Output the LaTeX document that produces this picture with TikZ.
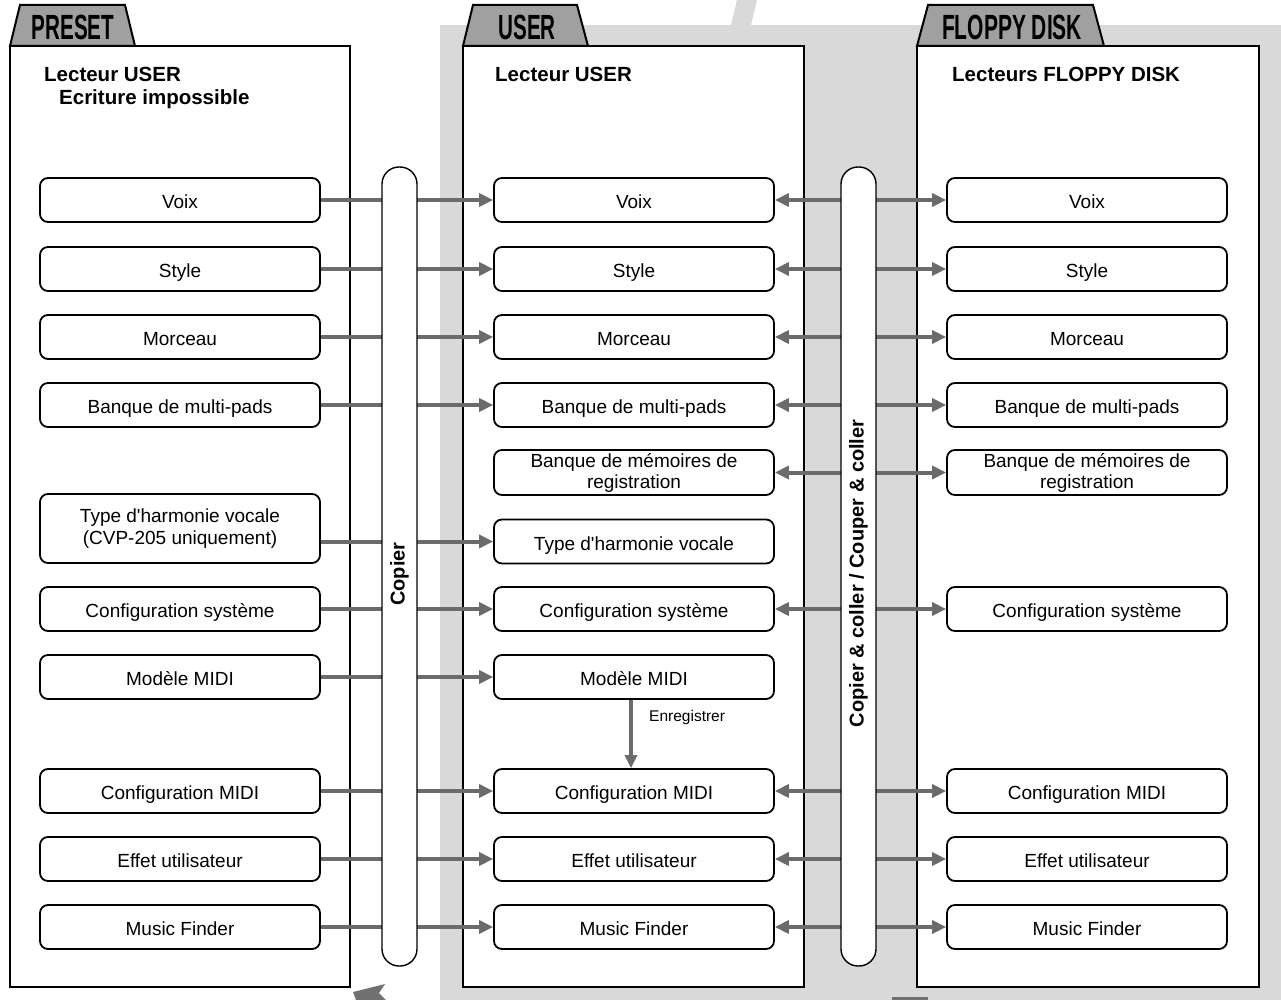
\documentclass[tikz,border=0pt]{standalone}
\usepackage{fontspec}
\setmainfont{Liberation Sans}
\usepackage{graphicx}
\usetikzlibrary{arrows.meta}
\definecolor{bggray}{HTML}{D9D9D9}
\definecolor{tabgray}{HTML}{A0A0A0}
\definecolor{arrgray}{HTML}{6B6B6B}
\definecolor{darkbit}{HTML}{707070}
\begin{document}
\begin{tikzpicture}[x=1pt,y=-1pt,
  box/.style={draw=black, line width=1.8pt, rounded corners=8pt, fill=white,
    minimum width=280pt, minimum height=44pt, align=center,
    font=\fontsize{19}{21}\selectfont, inner sep=0pt},
  one/.style={text height=17pt, text depth=0pt},
  panel/.style={draw=black, line width=2.8pt, fill=white},
  tabshape/.style={draw=black, line width=2pt, fill=tabgray, line join=miter},
  tablabel/.style={font=\bfseries\fontsize{35}{38}\selectfont, inner sep=0pt},
  title/.style={font=\bfseries\fontsize{20.5}{23}\selectfont, anchor=west, inner sep=0pt,
    text height=14.7pt, text depth=4.3pt},
  arr/.style={draw=arrgray, line width=4pt, -{Triangle[length=14pt,width=13pt]}},
  darr/.style={draw=arrgray, line width=4pt, {Triangle[length=14pt,width=13pt]}-{Triangle[length=14pt,width=13pt]}},
  pill/.style={draw=black, line width=1.4pt, fill=white, rounded corners=17pt,
    minimum width=35pt, minimum height=799pt, inner sep=0pt},
  pilltext/.style={rotate=90, font=\bfseries\fontsize{20}{22}\selectfont, inner sep=0pt},
  small/.style={font=\fontsize{15.5}{17}\selectfont, anchor=west, inner sep=0pt}
]
\useasboundingbox (0,0) rectangle (1281,1000);
% background
\fill[bggray] (440,25) rectangle (1281,1000);
\fill[bggray] (731,25) -- (751,25) -- (757,0) -- (737,0) -- cycle;
\fill[darkbit] (353,992) -- (385,984) -- (379,993) -- (386,1000) -- (356,1000) -- cycle;
\fill[darkbit] (892,997) rectangle (928,1000);

% tabs
\draw[tabshape] (10,46) -- (20,5) -- (125,5) -- (135,46) -- cycle;
\draw[tabshape] (463,46) -- (473,5) -- (577,5) -- (588,46) -- cycle;
\draw[tabshape] (917,46) -- (928,5) -- (1093,5) -- (1104,46) -- cycle;
\node[tablabel] (tPreset) at (73,27) {\scalebox{0.59}[1]{PRESET}};
\node[tablabel] (tUser) at (527,27) {\scalebox{0.59}[1]{USER}};
\node[tablabel] (tFloppy) at (1012,27) {\scalebox{0.6}[1]{FLOPPY DISK}};

% panels
\draw[panel] (10,46) rectangle (350,987);
\draw[panel] (463,46) rectangle (804,987);
\draw[panel] (917,46) rectangle (1259,987);

\node[title] (hL1) at (44,76.5) {Lecteur USER};
\node[title] (hL2) at (59,99) {Ecriture impossible};
\node[title] (hM) at (495,76.5) {Lecteur USER};
\node[title] (hR) at (952,76.5) {Lecteurs FLOPPY DISK};

% left column
\node[box, one] (L1) at (180,200) {Voix};
\node[box, one] (L2) at (180,269) {Style};
\node[box, one] (L3) at (180,337) {Morceau};
\node[box, one] (L4) at (180,405) {Banque de multi-pads};
\node[box, minimum height=69pt, font=\fontsize{19}{22}\selectfont] (L5) at (180,528.5) {Type d\textquotesingle harmonie vocale\\(CVP-205 uniquement)};
\node[box, one] (L6) at (180,609) {Configuration système};
\node[box, one] (L7) at (180,677) {Modèle MIDI};
\node[box, one] (L8) at (180,791) {Configuration MIDI};
\node[box, one] (L9) at (180,859) {Effet utilisateur};
\node[box, one] (L10) at (180,927) {Music Finder};

% middle column
\node[box, one] (M1) at (634,200) {Voix};
\node[box, one] (M2) at (634,269) {Style};
\node[box, one] (M3) at (634,337) {Morceau};
\node[box, one] (M4) at (634,405) {Banque de multi-pads};
\node[box, minimum height=45pt] (M5) at (634,472.5) {Banque de mémoires de\\registration};
\node[box, one] (M6) at (634,541.5) {Type d\textquotesingle harmonie vocale};
\node[box, one] (M7) at (634,609) {Configuration système};
\node[box, one] (M8) at (634,677) {Modèle MIDI};
\node[box, one] (M9) at (634,791) {Configuration MIDI};
\node[box, one] (M10) at (634,859) {Effet utilisateur};
\node[box, one] (M11) at (634,927) {Music Finder};

% right column
\node[box, one] (R1) at (1087,200) {Voix};
\node[box, one] (R2) at (1087,269) {Style};
\node[box, one] (R3) at (1087,337) {Morceau};
\node[box, one] (R4) at (1087,405) {Banque de multi-pads};
\node[box, minimum height=45pt] (R5) at (1087,472.5) {Banque de mémoires de\\registration};
\node[box, one] (R6) at (1087,609) {Configuration système};
\node[box, one] (R7) at (1087,791) {Configuration MIDI};
\node[box, one] (R8) at (1087,859) {Effet utilisateur};
\node[box, one] (R9) at (1087,927) {Music Finder};

% copy arrows
\draw[arr] (L1.east) -- (M1.west);
\draw[arr] (L2.east) -- (M2.west);
\draw[arr] (L3.east) -- (M3.west);
\draw[arr] (L4.east) -- (M4.west);
\draw[arr] (L5.east |- M6.west) -- (M6.west);
\draw[arr] (L6.east) -- (M7.west);
\draw[arr] (L7.east) -- (M8.west);
\draw[arr] (L8.east) -- (M9.west);
\draw[arr] (L9.east) -- (M10.west);
\draw[arr] (L10.east) -- (M11.west);

% copy/paste arrows
\draw[darr] (M1.east) -- (R1.west);
\draw[darr] (M2.east) -- (R2.west);
\draw[darr] (M3.east) -- (R3.west);
\draw[darr] (M4.east) -- (R4.west);
\draw[darr] (M5.east) -- (R5.west);
\draw[darr] (M7.east) -- (R6.west);
\draw[darr] (M9.east) -- (R7.west);
\draw[darr] (M10.east) -- (R8.west);
\draw[darr] (M11.east) -- (R9.west);

% Enregistrer
\draw[arr, -{Triangle[length=13pt,width=12pt]}] ([xshift=-3pt]M8.south) -- ([xshift=-3pt]M9.north);
\node[small] (enr) at (649,717) {Enregistrer};

% pills
\node[pill] (cp) at (399.5,566.5) {};
\node[pill] (cc) at (858.5,566.5) {};
\node[pilltext] (cpt) at (399.5,574) {Copier};
\node[pilltext] (cct) at (858.5,573.5) {Copier \& coller / Couper \& coller};
\end{tikzpicture}
\end{document}
